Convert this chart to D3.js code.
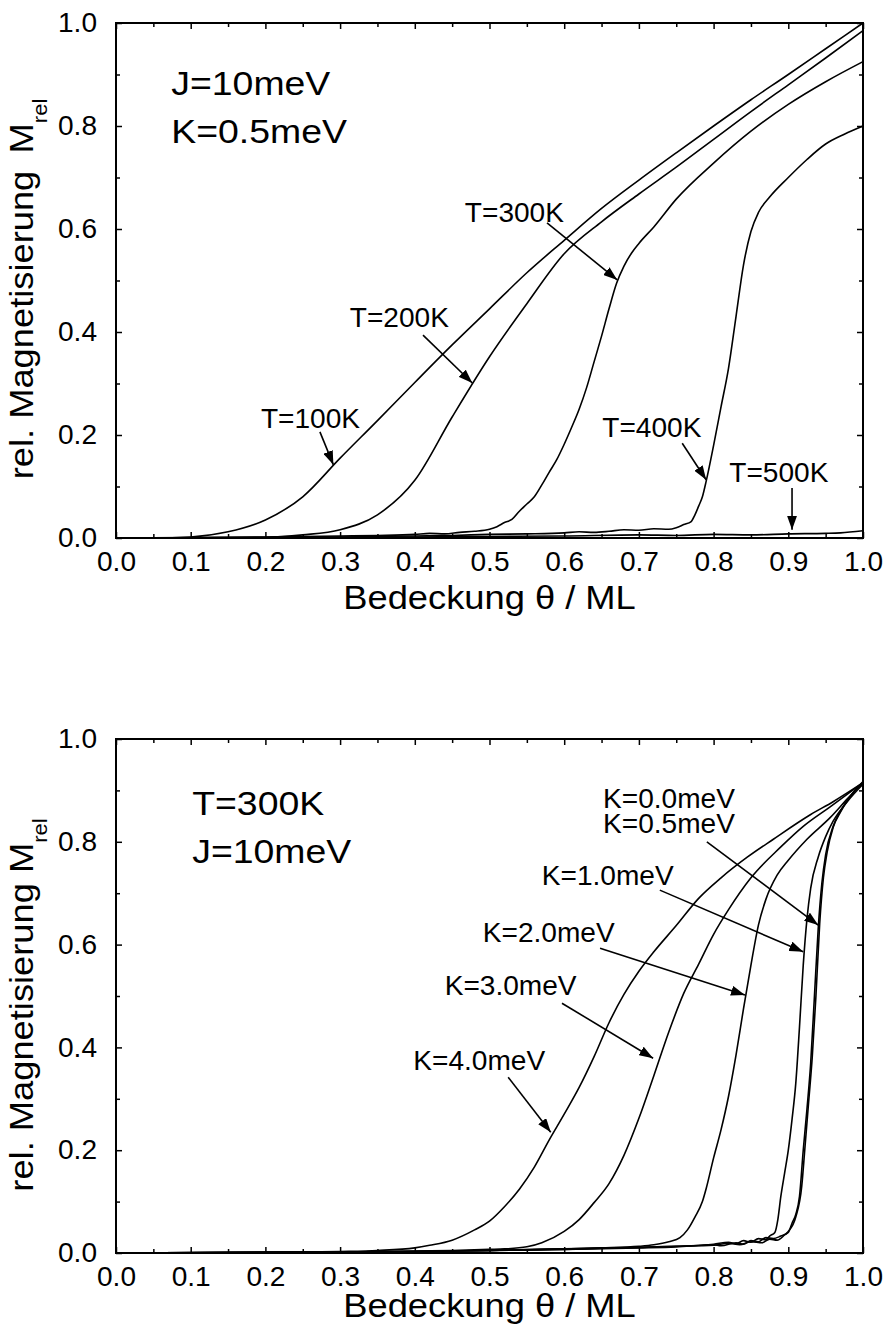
<!DOCTYPE html>
<html>
<head>
<meta charset="utf-8">
<script src="https://cdn.jsdelivr.net/npm/d3@7"></script>
<style>
  body { margin: 0; background: #fff; }
  text { font-family: "Liberation Sans", Arial, Helvetica, sans-serif; fill: #000; }
</style>
</head>
<body>
<svg id="chart" width="886" height="1329"></svg>
<script>
// ---- data: coverage theta (ML) vs relative magnetisation ----
// upper panel, J=10meV, K=0.5meV, different temperatures
const curveT100 = [[0,0],[0.05,0],[0.1,0.002],[0.15,0.012],[0.2,0.035],[0.25,0.08],[0.3,0.155],[0.35,0.228],[0.4,0.302],[0.45,0.375],[0.5,0.445],[0.55,0.515],[0.6,0.578],[0.65,0.64],[0.7,0.695],[0.75,0.748],[0.8,0.8],[0.85,0.851],[0.9,0.9],[0.95,0.95],[1.0,1.0]];
const curveT200 = [[0,0],[0.1,0],[0.2,0.001],[0.25,0.006],[0.3,0.016],[0.35,0.045],[0.4,0.112],[0.45,0.235],[0.5,0.352],[0.55,0.455],[0.6,0.552],[0.65,0.614],[0.7,0.668],[0.75,0.72],[0.8,0.774],[0.85,0.828],[0.9,0.88],[0.95,0.932],[1.0,0.985]];
const curveT300 = [[0,0],[0.1,0.001],[0.2,0.002],[0.25,0.003],[0.3,0.004],[0.35,0.005],[0.4,0.007],[0.42,0.009],[0.44,0.008],[0.46,0.011],[0.48,0.013],[0.5,0.017],[0.51,0.022],[0.52,0.03],[0.53,0.036],[0.54,0.052],[0.55,0.066],[0.56,0.08],[0.57,0.103],[0.58,0.128],[0.59,0.152],[0.6,0.182],[0.61,0.215],[0.62,0.25],[0.63,0.292],[0.64,0.342],[0.65,0.392],[0.66,0.445],[0.67,0.494],[0.68,0.528],[0.69,0.553],[0.7,0.572],[0.72,0.604],[0.75,0.658],[0.8,0.728],[0.85,0.79],[0.9,0.842],[0.95,0.886],[1.0,0.925]];
const curveT400 = [[0,0],[0.2,0.001],[0.3,0.002],[0.4,0.004],[0.45,0.005],[0.5,0.007],[0.55,0.008],[0.6,0.01],[0.62,0.012],[0.64,0.011],[0.66,0.013],[0.68,0.016],[0.7,0.015],[0.72,0.018],[0.74,0.017],[0.75,0.02],[0.76,0.026],[0.77,0.032],[0.775,0.045],[0.78,0.062],[0.785,0.08],[0.79,0.11],[0.8,0.18],[0.81,0.255],[0.82,0.33],[0.83,0.43],[0.84,0.53],[0.85,0.595],[0.86,0.632],[0.875,0.662],[0.9,0.7],[0.925,0.735],[0.95,0.765],[0.975,0.784],[1.0,0.8]];
const curveT500 = [[0,0],[0.2,0.001],[0.4,0.002],[0.5,0.003],[0.6,0.004],[0.7,0.006],[0.75,0.005],[0.8,0.007],[0.85,0.006],[0.9,0.008],[0.95,0.009],[0.97,0.01],[1.0,0.014]];

// lower panel, T=300K, J=10meV, different anisotropies
const curveK4 = [[0,0],[0.2,0.001],[0.3,0.003],[0.35,0.005],[0.4,0.01],[0.42,0.015],[0.45,0.025],[0.48,0.045],[0.5,0.062],[0.52,0.09],[0.54,0.124],[0.56,0.167],[0.58,0.22],[0.6,0.27],[0.62,0.322],[0.64,0.382],[0.66,0.448],[0.68,0.503],[0.7,0.548],[0.72,0.586],[0.75,0.637],[0.78,0.69],[0.81,0.73],[0.845,0.77],[0.88,0.805],[0.93,0.853],[0.96,0.878],[1.0,0.915]];
const curveK3 = [[0,0],[0.3,0.001],[0.4,0.004],[0.45,0.005],[0.5,0.007],[0.52,0.008],[0.55,0.012],[0.57,0.02],[0.6,0.042],[0.62,0.065],[0.64,0.098],[0.66,0.135],[0.68,0.19],[0.7,0.262],[0.72,0.345],[0.74,0.43],[0.76,0.505],[0.78,0.562],[0.8,0.62],[0.82,0.668],[0.85,0.73],[0.89,0.79],[0.92,0.83],[0.956,0.868],[1.0,0.915]];
const curveK2 = [[0,0],[0.4,0.003],[0.5,0.005],[0.6,0.008],[0.65,0.01],[0.7,0.013],[0.72,0.016],[0.74,0.022],[0.755,0.03],[0.765,0.045],[0.775,0.07],[0.785,0.1],[0.79,0.125],[0.8,0.185],[0.81,0.24],[0.82,0.305],[0.83,0.385],[0.84,0.475],[0.85,0.56],[0.86,0.638],[0.87,0.688],[0.885,0.735],[0.9,0.764],[0.925,0.805],[0.956,0.847],[0.98,0.885],[1.0,0.915]];
const curveK1 = [[0,0],[0.4,0.003],[0.5,0.005],[0.6,0.007],[0.7,0.011],[0.75,0.013],[0.8,0.017],[0.82,0.021],[0.83,0.018],[0.84,0.024],[0.85,0.021],[0.86,0.028],[0.87,0.026],[0.875,0.033],[0.882,0.04],[0.886,0.065],[0.89,0.11],[0.895,0.155],[0.9,0.2],[0.905,0.26],[0.91,0.33],[0.915,0.44],[0.92,0.56],[0.925,0.65],[0.93,0.71],[0.94,0.77],[0.95,0.81],[0.96,0.84],[0.98,0.88],[1.0,0.912]];
const curveK05 = [[0,0],[0.4,0.003],[0.5,0.005],[0.6,0.007],[0.7,0.01],[0.75,0.012],[0.8,0.016],[0.81,0.014],[0.83,0.02],[0.84,0.017],[0.85,0.024],[0.86,0.022],[0.87,0.03],[0.88,0.028],[0.89,0.033],[0.9,0.04],[0.905,0.058],[0.91,0.075],[0.915,0.11],[0.92,0.2],[0.925,0.28],[0.93,0.37],[0.935,0.5],[0.94,0.63],[0.945,0.72],[0.95,0.775],[0.96,0.83],[0.97,0.86],[0.98,0.883],[1.0,0.915]];
const curveK0 = [[0,0],[0.4,0.003],[0.5,0.005],[0.6,0.008],[0.7,0.011],[0.75,0.013],[0.8,0.015],[0.82,0.019],[0.835,0.016],[0.85,0.022],[0.865,0.02],[0.875,0.027],[0.885,0.025],[0.895,0.035],[0.9,0.042],[0.91,0.07],[0.918,0.13],[0.922,0.2],[0.927,0.29],[0.932,0.38],[0.937,0.5],[0.942,0.64],[0.947,0.73],[0.952,0.78],[0.96,0.828],[0.97,0.858],[0.98,0.882],[1.0,0.917]];

const xTicks = [0.0, 0.1, 0.2, 0.3, 0.4, 0.5, 0.6, 0.7, 0.8, 0.9, 1.0];
const xMinor = [0.05, 0.15, 0.25, 0.35, 0.45, 0.55, 0.65, 0.75, 0.85, 0.95];
const yTicks = [0.0, 0.2, 0.4, 0.6, 0.8, 1.0];
const yMinor = [0.1, 0.3, 0.5, 0.7, 0.9];

// labels with arrows (text anchor + arrow start/end, in data units)
const notesTop = [
  {text: "T=100K", at: [0.194, 0.214], from: [0.273, 0.206], to: [0.291, 0.142]},
  {text: "T=200K", at: [0.313, 0.410], from: [0.411, 0.394], to: [0.477, 0.301]},
  {text: "T=300K", at: [0.467, 0.614], from: [0.577, 0.612], to: [0.671, 0.501]},
  {text: "T=400K", at: [0.651, 0.196], from: [0.758, 0.184], to: [0.790, 0.113]},
  {text: "T=500K", at: [0.821, 0.109], from: [0.905, 0.097], to: [0.905, 0.016]}
];
const notesBottom = [
  {text: "K=0.0meV", at: [0.652, 0.866]},
  {text: "K=0.5meV", at: [0.652, 0.817], from: [0.791, 0.800], to: [0.940, 0.638]},
  {text: "K=1.0meV", at: [0.570, 0.716], from: [0.728, 0.706], to: [0.920, 0.586]},
  {text: "K=2.0meV", at: [0.491, 0.605], from: [0.648, 0.593], to: [0.842, 0.502]},
  {text: "K=3.0meV", at: [0.440, 0.502], from: [0.597, 0.486], to: [0.719, 0.379]},
  {text: "K=4.0meV", at: [0.398, 0.356], from: [0.525, 0.342], to: [0.582, 0.235]}
];
const insetTop = [{text: "J=10meV", at: [0.074, 0.860]}, {text: "K=0.5meV", at: [0.074, 0.767]}];
const insetBottom = [{text: "T=300K", at: [0.102, 0.852]}, {text: "J=10meV", at: [0.102, 0.759]}];

const panels = [
  {top: 23, bottom: 538, curves: [curveT100, curveT200, curveT300, curveT400, curveT500],
   notes: notesTop, inset: insetTop, xTitleY: 609, yTitleMid: 289, yTitle: "rel. Magnetisierung \u2009M"},
  {top: 739, bottom: 1253, curves: [curveK4, curveK3, curveK2, curveK1, curveK05, curveK0],
   notes: notesBottom, inset: insetBottom, xTitleY: 1317, yTitleMid: 1005, yTitle: "rel. Magnetisierung M"}
];

const left = 116, right = 863;
const svg = d3.select("#chart");

// the original lettering is a bit wider than Helvetica
const wideTick = 1.04, wideNote = 1.04, wideInset = 1.1, wideTitle = 1.1;

svg.append("defs").append("marker")
  .attr("id", "head")
  .attr("markerUnits", "userSpaceOnUse")
  .attr("viewBox", "0 0 14 10")
  .attr("refX", 14).attr("refY", 5)
  .attr("markerWidth", 14).attr("markerHeight", 10)
  .attr("orient", "auto")
  .append("path").attr("d", "M0,0 L14,5 L0,10 Z").attr("fill", "#000");

function wideText(parent, px, py, size, sx, str) {
  return parent.append("text")
    .attr("transform", "translate(" + px + "," + py + ") scale(" + sx + ",1)")
    .attr("font-size", size).text(str);
}

panels.forEach(function(p) {
  const x = d3.scaleLinear().domain([0, 1]).range([left, right]);
  const y = d3.scaleLinear().domain([0, 1]).range([p.bottom, p.top]);
  const g = svg.append("g");

  // ticks, all pointing inward, mirrored on top and right
  function styleAxis(sel) {
    sel.select(".domain").remove();
    sel.selectAll(".tick line").attr("stroke", "#000").attr("stroke-width", 1.5);
    sel.selectAll(".tick text").attr("font-size", 27).attr("font-family", "Liberation Sans, Arial, sans-serif");
  }
  const xb = g.append("g").attr("transform", "translate(0," + p.bottom + ")")
    .call(d3.axisBottom(x).tickValues(xTicks).tickSizeInner(-6).tickSizeOuter(0).tickPadding(14).tickFormat(d3.format(".1f")))
    .call(styleAxis);
  xb.selectAll(".tick text").attr("transform", "scale(" + wideTick + ",1)");
  g.append("g").attr("transform", "translate(0," + p.bottom + ")")
    .call(d3.axisBottom(x).tickValues(xMinor).tickSizeInner(-4).tickSizeOuter(0).tickFormat(""))
    .call(styleAxis);
  g.append("g").attr("transform", "translate(0," + p.top + ")")
    .call(d3.axisTop(x).tickValues(xTicks).tickSizeInner(-6).tickSizeOuter(0).tickFormat(""))
    .call(styleAxis);
  g.append("g").attr("transform", "translate(0," + p.top + ")")
    .call(d3.axisTop(x).tickValues(xMinor).tickSizeInner(-4).tickSizeOuter(0).tickFormat(""))
    .call(styleAxis);
  const yl = g.append("g").attr("transform", "translate(" + left + ",0)")
    .call(d3.axisLeft(y).tickValues(yTicks).tickSizeInner(-6).tickSizeOuter(0).tickPadding(19).tickFormat(d3.format(".1f")))
    .call(styleAxis);
  yl.selectAll(".tick text").attr("x", -19 / wideTick).attr("transform", "scale(" + wideTick + ",1)");
  g.append("g").attr("transform", "translate(" + left + ",0)")
    .call(d3.axisLeft(y).tickValues(yMinor).tickSizeInner(-4).tickSizeOuter(0).tickFormat(""))
    .call(styleAxis);
  g.append("g").attr("transform", "translate(" + right + ",0)")
    .call(d3.axisRight(y).tickValues(yTicks).tickSizeInner(-6).tickSizeOuter(0).tickFormat(""))
    .call(styleAxis);
  g.append("g").attr("transform", "translate(" + right + ",0)")
    .call(d3.axisRight(y).tickValues(yMinor).tickSizeInner(-4).tickSizeOuter(0).tickFormat(""))
    .call(styleAxis);

  // curves
  const line = d3.line().x(d => x(d[0])).y(d => y(d[1])).curve(d3.curveMonotoneX);
  g.selectAll("path.curve").data(p.curves).enter().append("path")
    .attr("class", "curve")
    .attr("d", line)
    .attr("fill", "none").attr("stroke", "#000").attr("stroke-width", 1.6)
    .attr("stroke-linejoin", "round");

  // frame
  g.append("rect")
    .attr("x", left).attr("y", p.top)
    .attr("width", right - left).attr("height", p.bottom - p.top)
    .attr("fill", "none").attr("stroke", "#000").attr("stroke-width", 2);

  // inset text
  p.inset.forEach(d => wideText(g, x(d.at[0]), y(d.at[1]), 34, wideInset, d.text));

  // labels with arrows
  p.notes.forEach(d => wideText(g, x(d.at[0]), y(d.at[1]), 27, wideNote, d.text));
  g.selectAll("line.arrow").data(p.notes.filter(d => d.from)).enter().append("line")
    .attr("class", "arrow")
    .attr("x1", d => x(d.from[0])).attr("y1", d => y(d.from[1]))
    .attr("x2", d => x(d.to[0])).attr("y2", d => y(d.to[1]))
    .attr("stroke", "#000").attr("stroke-width", 1.6)
    .attr("marker-end", "url(#head)");

  // axis titles
  wideText(g, (left + right) / 2, p.xTitleY, 33, wideTitle, "Bedeckung \u03b8 / ML")
    .attr("text-anchor", "middle");
  const yt = g.append("text")
    .attr("transform", "translate(33," + p.yTitleMid + ") rotate(-90) scale(" + wideTitle + ",1)")
    .attr("text-anchor", "middle").attr("font-size", 33);
  yt.append("tspan").text(p.yTitle);
  yt.append("tspan").attr("font-size", 20).attr("dy", 14).text("rel");
});
</script>
</body>
</html>
